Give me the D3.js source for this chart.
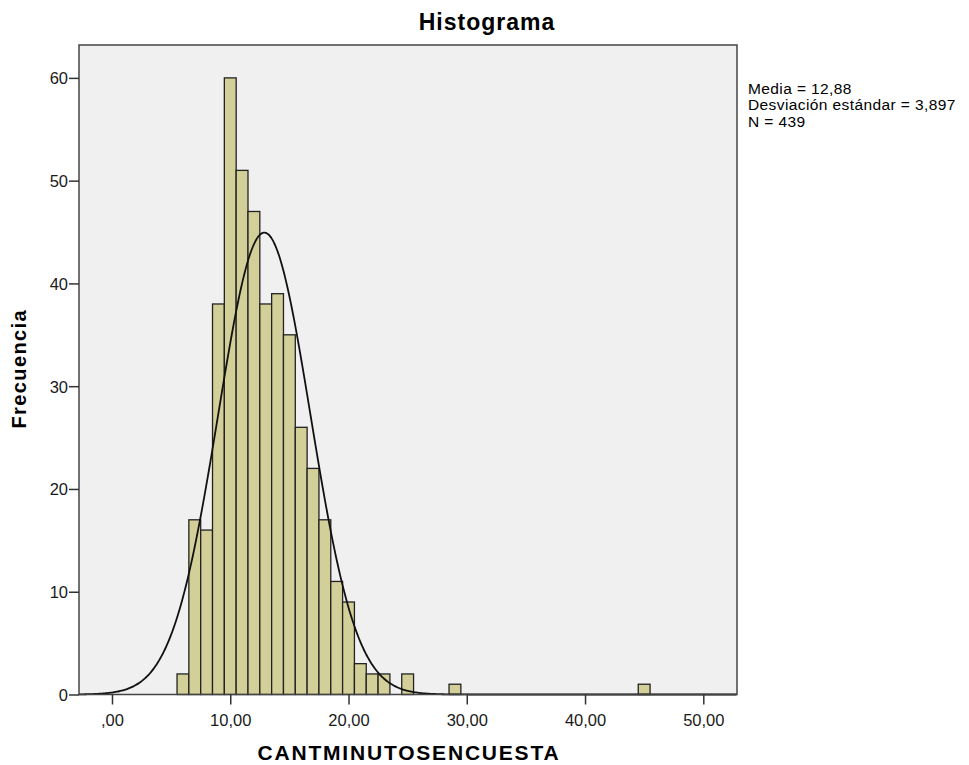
<!DOCTYPE html>
<html>
<head>
<meta charset="utf-8">
<script src="https://cdn.jsdelivr.net/npm/d3@7"></script>
<style>
  html, body { margin: 0; padding: 0; background: #ffffff; }
  svg { display: block; font-family: "Liberation Sans", Arial, sans-serif; }
</style>
</head>
<body>
<svg id="chart" width="969" height="765"></svg>
<script>
// Histogram of minutes per survey (bins of width 1, centred on integers)
const binCenters = [6, 7, 8, 9, 10, 11, 12, 13, 14, 15, 16, 17, 18, 19, 20, 21, 22, 23, 24, 25, 29, 45];
const binCounts  = [2, 17, 16, 38, 60, 51, 47, 38, 39, 35, 26, 22, 17, 11, 9, 3, 2, 2, 0, 2, 1, 1];
const binWidth = 1;

// Summary statistics shown in the side legend and used for the normal curve
const stats = { mean: 12.88, sd: 3.897, n: 439 };
const legendLines = ["Media = 12,88", "Desviación estándar = 3,897", "N = 439"];

const xTicks = [0, 10, 20, 30, 40, 50];
const yTicks = [0, 10, 20, 30, 40, 50, 60];

const titleText = "Histograma";
const xLabel = "CANTMINUTOSENCUESTA";
const yLabel = "Frecuencia";

const svg = d3.select("#chart");
const plot = { left: 79, right: 737, top: 45, bottom: 694.5 };

const x = d3.scaleLinear().domain([-2.79, 52.85]).range([plot.left, plot.right]);
const y = d3.scaleLinear().domain([0, 63.2]).range([plot.bottom, plot.top]);

// Plot background
svg.append("rect")
  .attr("x", plot.left).attr("y", plot.top)
  .attr("width", plot.right - plot.left).attr("height", plot.bottom - plot.top)
  .attr("fill", "#f0f0f0");

// Bars
svg.append("g").selectAll("rect")
  .data(binCenters.map((c, i) => ({ c, v: binCounts[i] })).filter(d => d.v > 0))
  .join("rect")
  .attr("x", d => x(d.c - binWidth / 2))
  .attr("width", d => x(d.c + binWidth / 2) - x(d.c - binWidth / 2))
  .attr("y", d => y(d.v))
  .attr("height", d => y(0) - y(d.v))
  .attr("fill", "#d3cf99")
  .attr("stroke", "#222")
  .attr("stroke-width", 1.3);

// Normal curve scaled to counts
const pdf = v => stats.n * binWidth / (stats.sd * Math.sqrt(2 * Math.PI)) *
  Math.exp(-0.5 * Math.pow((v - stats.mean) / stats.sd, 2));
const xs = d3.range(x.domain()[0], x.domain()[1] + 0.001, 0.1);
svg.append("path")
  .datum(xs)
  .attr("fill", "none")
  .attr("stroke", "#111")
  .attr("stroke-width", 1.8)
  .attr("d", d3.line().x(v => x(v)).y(v => y(pdf(v))).curve(d3.curveMonotoneX));

// Frame
svg.append("rect")
  .attr("x", plot.left).attr("y", plot.top)
  .attr("width", plot.right - plot.left).attr("height", plot.bottom - plot.top)
  .attr("fill", "none")
  .attr("stroke", "#444")
  .attr("stroke-width", 1.5);

// Axes
const fmtX = v => (v === 0 ? "" : String(v)) + ",00";
const xAxis = svg.append("g")
  .attr("transform", `translate(0,${plot.bottom})`)
  .call(d3.axisBottom(x).tickValues(xTicks).tickFormat(fmtX).tickSize(10).tickSizeOuter(0));
const yAxis = svg.append("g")
  .attr("transform", `translate(${plot.left},0)`)
  .call(d3.axisLeft(y).tickValues(yTicks).tickSize(10).tickSizeOuter(0));
[xAxis, yAxis].forEach(g => {
  g.select(".domain").remove();
  g.selectAll(".tick line").attr("stroke", "#333").attr("stroke-width", 1.5);
  g.selectAll(".tick text")
    .attr("fill", "#1a1a1a")
    .style("font-size", "16.5px")
    .style("font-family", "'Liberation Sans', Arial, sans-serif");
});
xAxis.selectAll(".tick text").attr("dy", "1.12em");
yAxis.selectAll(".tick text").attr("x", -11).attr("dy", "0.36em");

// Title
svg.append("text")
  .attr("x", 487).attr("y", 30)
  .attr("text-anchor", "middle")
  .style("font-size", "23px").style("font-weight", "bold")
  .style("letter-spacing", "1px")
  .attr("fill", "#000")
  .text(titleText);

// Axis titles
svg.append("text")
  .attr("x", 409).attr("y", 760)
  .attr("text-anchor", "middle")
  .style("font-size", "21px").style("font-weight", "bold")
  .style("letter-spacing", "1.8px")
  .attr("fill", "#000")
  .text(xLabel);

svg.append("text")
  .attr("transform", `translate(26,${(plot.top + plot.bottom) / 2 - 1}) rotate(-90)`)
  .attr("text-anchor", "middle")
  .style("font-size", "20px").style("font-weight", "bold")
  .style("letter-spacing", "1.4px")
  .attr("fill", "#000")
  .text(yLabel);

// Legend with summary statistics
svg.append("g").selectAll("text")
  .data(legendLines)
  .join("text")
  .attr("x", 748)
  .attr("y", (d, i) => 94 + i * 16.4)
  .style("font-size", "15.5px")
  .style("letter-spacing", "0.4px")
  .attr("fill", "#000")
  .text(d => d);
</script>
</body>
</html>
